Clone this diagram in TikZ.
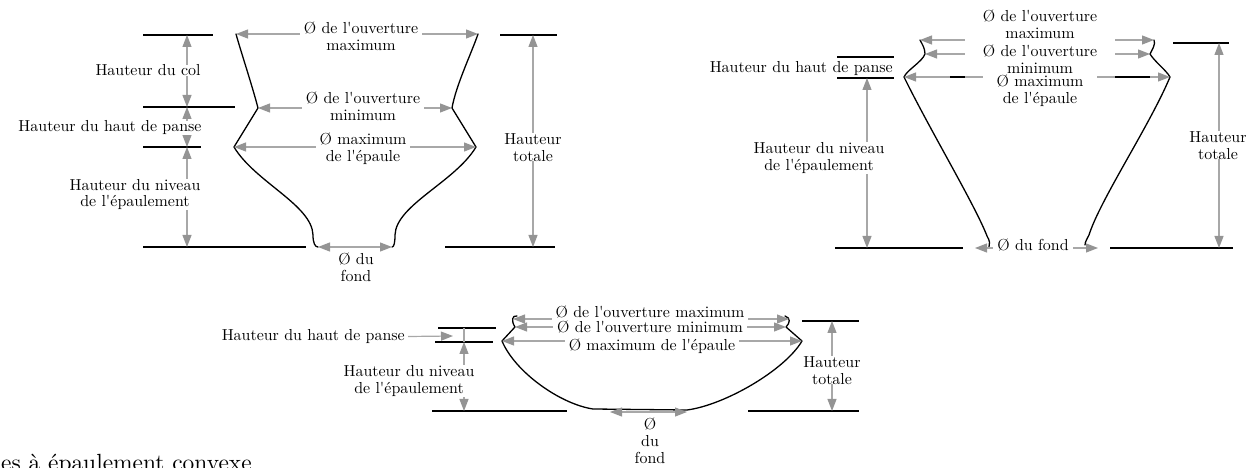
\documentclass[tikz,border=0pt]{standalone}
\usepackage{fontspec}
\usetikzlibrary{arrows.meta}

\newfontfamily\cotefamily{lmroman10-regular.otf}
\definecolor{traitgris}{RGB}{168,168,168}
\definecolor{pointegris}{RGB}{148,148,148}
\newcommand{\cotefont}{\cotefamily\fontsize{16}{17}\selectfont}

\tikzset{
  >={Triangle[length=12bp,width=9bp,color=pointegris]},
  niveau/.style={line width=1.3bp},
  profil/.style={line width=1.3bp, line join=round, line cap=round},
  cote/.style={draw=traitgris, line width=1.2bp, <->},
  demicote/.style={draw=traitgris, line width=1.2bp, ->},
  etiq/.style={fill=white, inner xsep=4bp, inner ysep=0bp, align=center, font=\cotefont},
  texte/.style={inner sep=0bp, align=center, font=\cotefont},
}

\begin{document}
\begin{tikzpicture}[x=1bp,y=-1bp]
   \useasboundingbox (0,0) rectangle (1252,468);

   % vase a col
   \coordinate (Aog) at (236,34);
   \coordinate (Aod) at (478,34);
   \coordinate (Amg) at (258,108);
   \coordinate (Amd) at (452,108);
   \coordinate (Aeg) at (234,147);
   \coordinate (Aed) at (476,147);
   \coordinate (Afg) at (318,247);
   \coordinate (Afd) at (392,247);
   \foreach \n/\y in {1/35,2/107,3/147,4/247}
   \coordinate (Ag\n) at (187,\y);
   \coordinate (Ad1) at (533,35);
   \coordinate (Ad2) at (533,247);

   \draw[niveau] (143,35) -- (213,35);
   \draw[niveau] (143,107) -- (235,107);
   \draw[niveau] (143,147) -- (201,147);
   \draw[niveau] (143,247) -- (306,247);
   \draw[niveau] (500,35) -- (557,35);
   \draw[niveau] (445,247) -- (555,247);

   \draw[profil] (Aog) .. controls (241,52) and (252,85) .. (Amg) -- (Aeg)
      .. controls (255,182) and (312,205) .. (313,235)
      .. controls (313,243) and (315,247) .. (Afg);
   \draw[profil] (Aod) .. controls (472,52) and (456,85) .. (Amd) -- (Aed)
      .. controls (455,182) and (396,205) .. (395,235)
      .. controls (395,243) and (394,247) .. (Afd);

   \draw[cote] (Aog) -- (Aod);
   \draw[cote] (Amg) -- (Amd);
   \draw[cote] (Aeg) -- (Aed);
   \draw[cote] (Afg) -- (Afd);
   \draw[cote] (Ag1) -- (Ag2);
   \draw[cote] (Ag2) -- (Ag3);
   \draw[cote] (Ag3) -- (Ag4);
   \draw[cote] (Ad1) -- (Ad2);

   \node[etiq] (Aouvmax) at (361,36.5) {Ø de l'ouverture\\maximum};
   \node[etiq] (Aouvmin) at (363,106.5) {Ø de l'ouverture\\minimum};
   \node[etiq] (Aepaule) at (363,149) {Ø maximum\\de l'épaule};
   \node[texte] (Afond) at (356,267.5) {Ø du\\fond};
   \node[etiq] (Acol) at (148,70.5) {Hauteur du col};
   \node[etiq] (Apanse) at (110,128) {Hauteur du haut de panse};
   \node[etiq] (Aniveau) at (135,194.5) {Hauteur du niveau\\de l'épaulement};
   \node[etiq] (Atotale) at (533,147.5) {Hauteur\\totale};

   % vase a epaule haute
   \coordinate (Bog) at (920,40);
   \coordinate (Bod) at (1154,40);
   \coordinate (Bmg) at (925,54);
   \coordinate (Bmd) at (1150,54);
   \coordinate (Beg) at (904,77);
   \coordinate (Bed) at (1170,77);
   \coordinate (Bfg) at (975,248);
   \coordinate (Bfd) at (1098,248);
   \coordinate (Bg1) at (867,78);
   \coordinate (Bg2) at (867,248);
   \coordinate (Bd1) at (1219,43);
   \coordinate (Bd2) at (1219,248);

   \draw[niveau] (837,57) -- (894,57);
   \draw[niveau] (837,78) -- (894,78);
   \draw[niveau] (835,248) -- (963,248);
   \draw[niveau] (1110,248) -- (1233,248);
   \draw[niveau] (1173,43) -- (1229,43);

   \draw[profil] (Bog) .. controls (922,44) and (925,48) .. (Bmg)
      .. controls (922,62) and (907,70) .. (Beg)
      .. controls (930,130) and (975,205) .. (987,236)
      .. controls (990,241) and (990,244) .. (989,247);
   \draw[profil] (Bod) .. controls (1156,44) and (1152,50) .. (Bmd)
      .. controls (1155,62) and (1166,70) .. (Bed)
      .. controls (1150,125) and (1100,200) .. (1089,235)
      .. controls (1087,239) and (1085,242) .. (1085,245);

   \draw[cote] (Bog) -- (Bod);
   \draw[cote] (Bmg) -- (Bmd);
   \draw[cote] (Beg) -- (Bed);
   \draw[cote] (Bfg) -- (Bfd);
   \draw[cote] (Bg1) -- (Bg2);
   \draw[cote] (Bd1) -- (Bd2);

   \node[etiq, minimum width=150bp, inner ysep=4bp] (Bouvmax) at (1040,24.5) {Ø de l'ouverture\\maximum};
   \node[etiq, minimum width=150bp, inner ysep=2bp] (Bouvmin) at (1040,59.5) {Ø de l'ouverture\\minimum};
   \node[etiq, minimum width=114bp, inner ysep=1bp] (Bepaule) at (1040,90.5) {Ø maximum\\de l'épaule};
   \node[etiq] (Bfond) at (1033,245.5) {Ø du fond};
   \node[texte, anchor=east] (Bpanse) at (893,68.5) {Hauteur du haut de panse};
   \node[etiq] (Bniveau) at (819,158) {Hauteur du niveau\\de l'épaulement};
   \node[etiq] (Btotale) at (1218,145.5) {Hauteur\\totale};
   \draw[niveau] (950,77) -- (965,77);
   \draw[niveau] (1115,77) -- (1150,77);

   % vase bas a epaulement convexe
   \coordinate (Cog) at (513,319);
   \coordinate (Cod) at (789,319);
   \coordinate (Cmg) at (515,327);
   \coordinate (Cmd) at (786,327);
   \coordinate (Ceg) at (502,341);
   \coordinate (Ced) at (802,341);
   \coordinate (Cfg) at (610,412);
   \coordinate (Cfd) at (687,412);
   \coordinate (Cg0) at (464,328);
   \coordinate (Cg1) at (464,342);
   \coordinate (Cg2) at (464,411);
   \coordinate (Cd1) at (832,321);
   \coordinate (Cd2) at (832,411);
   \coordinate (Cpointe) at (453,336);

   \draw[niveau] (438,328) -- (496,328);
   \draw[niveau] (435,342) -- (493,342);
   \draw[niveau] (432,411) -- (567,411);
   \draw[niveau] (802,321) -- (859,321);
   \draw[niveau] (748,411) -- (859,411);

   \draw[profil] (517,316) .. controls (512,315) and (511,321) .. (Cmg) -- (Ceg)
      .. controls (515,372) and (560,404) .. (593,409) -- (687,410)
      .. controls (725,405) and (785,370) .. (Ced) -- (Cmd)
      .. controls (790,323) and (791,318) .. (785,316);

   \draw[cote] (Cog) -- (Cod);
   \draw[cote] (Cmg) -- (Cmd);
   \draw[cote] (Ceg) -- (Ced);
   \draw[cote] (Cfg) -- (Cfd);
   \draw[traitgris, line width=1.2bp] (Cg0) -- (Cg1);
   \draw[cote] (Cg1) -- (Cg2);
   \draw[cote] (Cd1) -- (Cd2);

   \node[etiq, inner ysep=2.5bp] (Couvmax) at (650,312.5) {Ø de l'ouverture maximum};
   \node[etiq, inner ysep=2.5bp] (Couvmin) at (650,327.5) {Ø de l'ouverture minimum};
   \node[etiq, inner ysep=2.5bp] (Cepaule) at (652,346) {Ø maximum de l'épaule};
   \node[texte] (Cfond) at (650,441) {Ø\\du\\fond};
   \node[texte, anchor=east] (Cpanse) at (405,336.5) {Hauteur du haut de panse};
   \draw[demicote] (Cpanse.east) ++(3,0) -- (Cpointe);
   \node[etiq] (Cniveau) at (409,381) {Hauteur du niveau\\de l'épaulement};
   \node[etiq] (Ctotale) at (832,370.5) {Hauteur\\totale};

   \node[inner sep=0bp, anchor=base west, font=\cotefamily\fontsize{23.5}{26}\selectfont] (titre) at (1,471) {es à épaulement convexe};

\end{tikzpicture}
\end{document}
